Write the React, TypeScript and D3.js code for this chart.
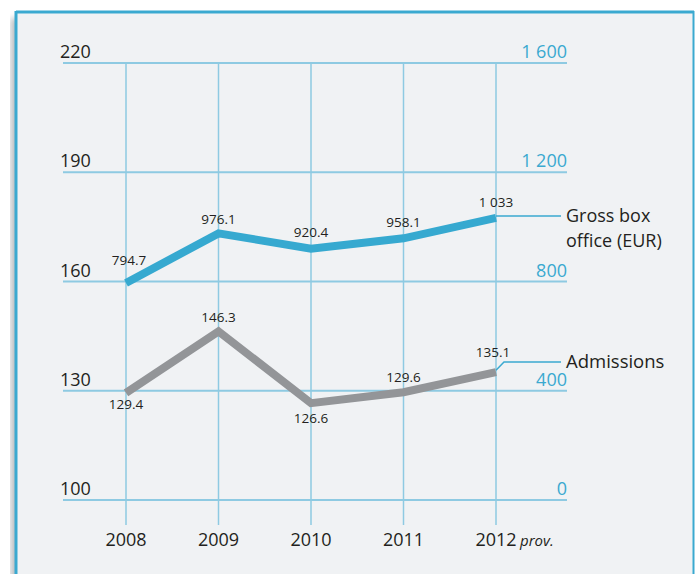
import React from "react";
import * as d3 from "d3";

const years = ["2008", "2009", "2010", "2011", "2012"];
const boxOffice = [794.7, 976.1, 920.4, 958.1, 1033];
const boxOfficeLabels = ["794.7", "976.1", "920.4", "958.1", "1 033"];
const admissions = [129.4, 146.3, 126.6, 129.6, 135.1];
const admissionsLabels = ["129.4", "146.3", "126.6", "129.6", "135.1"];
const leftTicks = [100, 130, 160, 190, 220];
const rightTicks = [0, 400, 800, 1200, 1600];
const rightTickLabels = ["0", "400", "800", "1 200", "1 600"];

// label layout offsets (pixels)
const boxLabelDy = [-18, -9, -12, -11, -11];
const admLabelDy = [16, -9, 20, -10, -15];

const W = 695;
const H = 574;
const TEAL = "#3aa9d0";
const GRID = "#8ecae2";
const FONT = "'Open Sans', sans-serif";

export default function App() {
  const x = d3.scalePoint<string>().domain(years).range([126, 496]);
  const yL = d3.scaleLinear().domain([100, 220]).range([500, 63]);
  const yR = d3.scaleLinear().domain([0, 1600]).range([500, 63]);

  const boxLine = d3
    .line<number>()
    .x((_, i) => x(years[i])!)
    .y((d) => yR(d));
  const admLine = d3
    .line<number>()
    .x((_, i) => x(years[i])!)
    .y((d) => yL(d));

  const lastX = x(years[years.length - 1])!;
  const admLastY = yL(admissions[admissions.length - 1]);

  return (
    <svg
      width={W}
      height={H}
      style={{ position: "absolute", left: 0, top: 0, background: "#fff" }}
    >
      <defs>
        <filter id="sh" x="-10%" y="-10%" width="120%" height="120%">
          <feGaussianBlur stdDeviation="3" />
        </filter>
      </defs>
      <rect x={11} y={18} width={10} height={H} fill="#9a9ea3" filter="url(#sh)" opacity={0.7} />
      <rect x={15} y={11} width={679} height={H} fill="#f0f2f4" />
      <line x1={16} y1={12} x2={694} y2={12} stroke={TEAL} strokeWidth={3} />
      <line x1={16} y1={11} x2={16} y2={H} stroke={TEAL} strokeWidth={3} />
      <line x1={693.5} y1={11} x2={693.5} y2={H} stroke={TEAL} strokeWidth={2} />

      {/* vertical grid */}
      {years.map((yr) => (
        <line key={yr} x1={x(yr)} x2={x(yr)} y1={63} y2={525} stroke={GRID} strokeWidth={1.5} />
      ))}
      {/* horizontal grid */}
      {leftTicks.map((t) => (
        <line key={t} x1={63} x2={567} y1={yL(t)} y2={yL(t)} stroke={GRID} strokeWidth={2} />
      ))}

      {/* left tick labels */}
      {leftTicks.map((t) => (
        <text key={t} x={60} y={yL(t) - 5} fontFamily={FONT} fontSize={18} fill="#231f20">
          {t}
        </text>
      ))}
      {/* right tick labels */}
      {rightTicks.map((t, i) => (
        <text
          key={t}
          x={567}
          y={yR(t) - 5}
          textAnchor="end"
          fontFamily={FONT}
          fontSize={18}
          fill={TEAL}
        >
          {rightTickLabels[i]}
        </text>
      ))}

      {/* year labels */}
      {years.map((yr) => (
        <text
          key={yr}
          x={x(yr)}
          y={546}
          textAnchor="middle"
          fontFamily={FONT}
          fontSize={18}
          fill="#231f20"
        >
          {yr}
        </text>
      ))}
      <text x={lastX + 24} y={546} fontFamily={FONT} fontSize={15} fontStyle="italic" fill="#231f20">
        prov.
      </text>

      {/* leader lines */}
      <line x1={lastX} x2={561} y1={216} y2={216} stroke={TEAL} strokeWidth={1.5} />
      <polyline
        points={`${lastX},${admLastY - 2} ${lastX + 8},362 561,362`}
        fill="none"
        stroke={TEAL}
        strokeWidth={1.5}
      />

      {/* series lines */}
      <path d={boxLine(boxOffice)!} fill="none" stroke="#36a9d0" strokeWidth={8} strokeLinejoin="miter" />
      <path d={admLine(admissions)!} fill="none" stroke="#939598" strokeWidth={8} strokeLinejoin="miter" />

      {/* value labels */}
      {boxOffice.map((v, i) => (
        <text
          key={"b" + i}
          x={x(years[i])! + (i === 0 ? 3 : 0)}
          y={yR(v) + boxLabelDy[i]}
          textAnchor="middle"
          fontFamily={FONT}
          fontSize={13.5}
          fill="#231f20"
        >
          {boxOfficeLabels[i]}
        </text>
      ))}
      {admissions.map((v, i) => (
        <text
          key={"a" + i}
          x={x(years[i])! + (i === 4 ? -3 : 0)}
          y={yL(v) + admLabelDy[i]}
          textAnchor="middle"
          fontFamily={FONT}
          fontSize={13.5}
          fill="#231f20"
        >
          {admissionsLabels[i]}
        </text>
      ))}

      {/* legend texts */}
      <text x={566} y={222} fontFamily={FONT} fontSize={18} fill="#231f20">
        Gross box
      </text>
      <text x={566} y={247} fontFamily={FONT} fontSize={18} fill="#231f20">
        office (EUR)
      </text>
      <text x={566} y={368} fontFamily={FONT} fontSize={18.5} fill="#231f20">
        Admissions
      </text>
    </svg>
  );
}
